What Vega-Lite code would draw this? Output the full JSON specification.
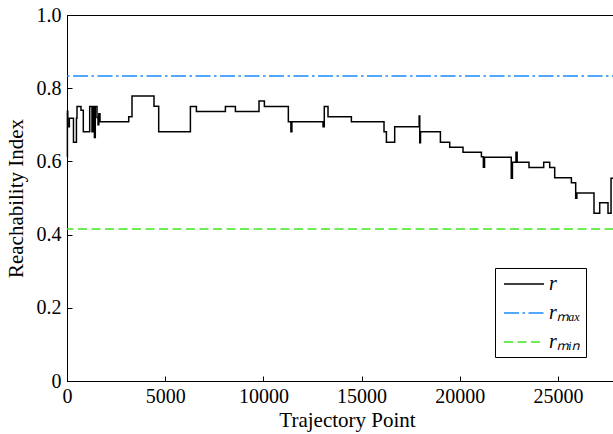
{
  "$schema": "https://vega.github.io/schema/vega-lite/v6.json",
  "autosize": "none",
  "width": 560,
  "height": 366,
  "padding": {"left": 67, "top": 15, "right": 0, "bottom": 53},
  "background": "white",
  "config": {
    "view": {"stroke": "black", "strokeWidth": 1},
    "font": "Liberation Serif",
    "axis": {
      "labelFont": "Liberation Serif",
      "labelFontSize": 20,
      "labelColor": "black",
      "titleFont": "Liberation Serif",
      "titleFontSize": 21,
      "titleFontWeight": "normal",
      "titleColor": "black",
      "domainColor": "black",
      "domainWidth": 1,
      "tickColor": "black",
      "tickSize": -5,
      "tickWidth": 1,
      "grid": false
    }
  },
  "datasets": {
    "r": [
      {"point": 0, "index": 0.612},
      {"point": 20, "index": 0.737},
      {"point": 40, "index": 0.695},
      {"point": 120, "index": 0.718},
      {"point": 330, "index": 0.652},
      {"point": 480, "index": 0.718},
      {"point": 509, "index": 0.750},
      {"point": 713, "index": 0.740},
      {"point": 830, "index": 0.681},
      {"point": 1156, "index": 0.750},
      {"point": 1273, "index": 0.681},
      {"point": 1340, "index": 0.750},
      {"point": 1395, "index": 0.665},
      {"point": 1440, "index": 0.750},
      {"point": 1527, "index": 0.720},
      {"point": 1580, "index": 0.700},
      {"point": 1620, "index": 0.730},
      {"point": 1680, "index": 0.708},
      {"point": 3142, "index": 0.722},
      {"point": 3310, "index": 0.779},
      {"point": 4430, "index": 0.751},
      {"point": 4669, "index": 0.681},
      {"point": 6283, "index": 0.750},
      {"point": 6589, "index": 0.736},
      {"point": 8065, "index": 0.750},
      {"point": 8574, "index": 0.736},
      {"point": 9776, "index": 0.765},
      {"point": 10050, "index": 0.750},
      {"point": 11270, "index": 0.708},
      {"point": 11400, "index": 0.681},
      {"point": 11450, "index": 0.708},
      {"point": 13035, "index": 0.695},
      {"point": 13100, "index": 0.750},
      {"point": 13290, "index": 0.722},
      {"point": 14480, "index": 0.708},
      {"point": 16141, "index": 0.681},
      {"point": 16263, "index": 0.652},
      {"point": 16685, "index": 0.695},
      {"point": 17930, "index": 0.724},
      {"point": 17960, "index": 0.651},
      {"point": 18000, "index": 0.681},
      {"point": 19012, "index": 0.652},
      {"point": 19486, "index": 0.639},
      {"point": 20163, "index": 0.625},
      {"point": 21100, "index": 0.613},
      {"point": 21200, "index": 0.584},
      {"point": 21260, "index": 0.611},
      {"point": 22620, "index": 0.554},
      {"point": 22680, "index": 0.598},
      {"point": 22860, "index": 0.625},
      {"point": 22920, "index": 0.598},
      {"point": 23523, "index": 0.583},
      {"point": 24272, "index": 0.598},
      {"point": 24577, "index": 0.583},
      {"point": 24832, "index": 0.555},
      {"point": 25682, "index": 0.542},
      {"point": 25900, "index": 0.499},
      {"point": 25960, "index": 0.514},
      {"point": 26833, "index": 0.458},
      {"point": 27123, "index": 0.487},
      {"point": 27546, "index": 0.458},
      {"point": 27700, "index": 0.554},
      {"point": 28000, "index": 0.554}
    ],
    "refs": [
      {"series": "rₘₐₓ", "value": 0.833},
      {"series": "rₘᵢₙ", "value": 0.415}
    ]
  },
  "layer": [
    {
      "data": {"name": "refs"},
      "mark": {"type": "rule", "strokeWidth": 1.5},
      "encoding": {
        "y": {"field": "value", "type": "quantitative"},
        "color": {"field": "series", "type": "nominal"},
        "strokeDash": {"field": "series", "type": "nominal"}
      }
    },
    {
      "data": {"name": "r"},
      "mark": {"type": "line", "interpolate": "step-after", "strokeWidth": 1.5},
      "encoding": {
        "x": {
          "field": "point",
          "type": "quantitative",
          "scale": {"domain": [0, 28513], "nice": false, "zero": false},
          "axis": {
            "title": "Trajectory Point",
            "values": [0, 5000, 10000, 15000, 20000, 25000],
            "format": "d",
            "labelPadding": 10,
            "titlePadding": 3,
            "labelFlush": false
          }
        },
        "y": {
          "field": "index",
          "type": "quantitative",
          "scale": {"domain": [0, 1], "nice": false},
          "axis": {
            "title": "Reachability Index",
            "values": [0, 0.2, 0.4, 0.6, 0.8, 1.0],
            "labelExpr": "datum.value == 0 ? '0' : format(datum.value, '.1f')",
            "labelPadding": 11,
            "titlePadding": 10,
            "labelFlush": false
          }
        },
        "color": {"datum": "r"},
        "strokeDash": {"datum": "r"}
      }
    }
  ],
  "resolve": {"scale": {"color": "shared", "strokeDash": "shared"}},
  "encoding": {
    "color": {
      "scale": {"domain": ["r", "rₘₐₓ", "rₘᵢₙ"], "range": ["black", "#1a8cff", "#3ee61c"]},
      "legend": {
        "orient": "none",
        "legendX": 428,
        "legendY": 253,
        "title": null,
        "strokeColor": "black",
        "fillColor": "white",
        "padding": 5,
        "symbolType": "M-0.7,0L3.3,0",
        "symbolSize": 400,
        "symbolStrokeWidth": 1.5,
        "labelFont": "Liberation Serif",
        "labelFontSize": 20,
        "labelFontStyle": "italic",
        "labelColor": "black",
        "rowPadding": 8,
        "labelOffset": 27
      }
    },
    "strokeDash": {
      "scale": {"domain": ["r", "rₘₐₓ", "rₘᵢₙ"], "range": [[1, 0], [15, 3.5, 2.5, 3.5], [9, 4.5]]},
      "legend": {
        "orient": "none",
        "legendX": 428,
        "legendY": 253,
        "title": null,
        "strokeColor": "black",
        "fillColor": "white",
        "padding": 5,
        "symbolType": "M-0.7,0L3.3,0",
        "symbolSize": 400,
        "symbolStrokeWidth": 1.5,
        "labelFont": "Liberation Serif",
        "labelFontSize": 20,
        "labelFontStyle": "italic",
        "labelColor": "black",
        "rowPadding": 8,
        "labelOffset": 27
      }
    }
  }
}
